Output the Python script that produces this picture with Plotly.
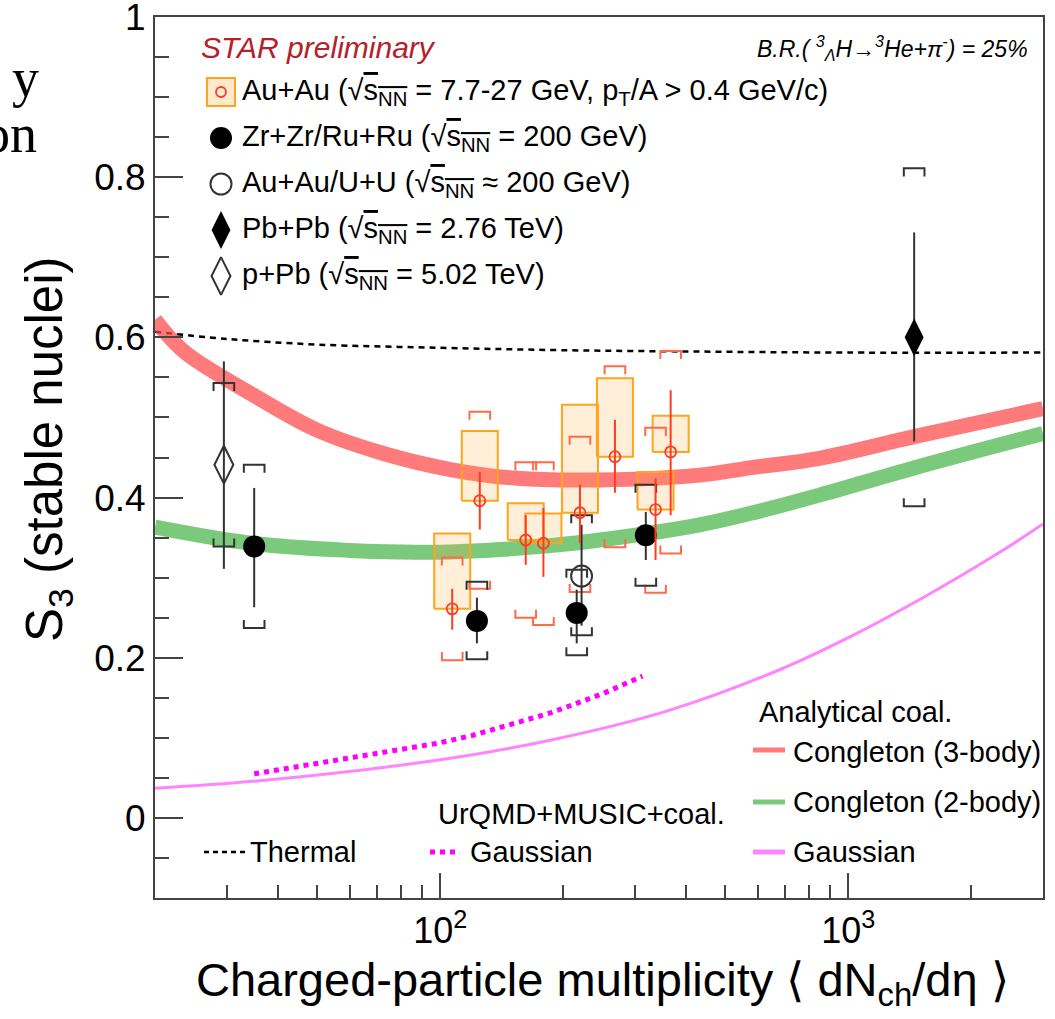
import numpy as np
import plotly.graph_objects as go

# ---------------- data ----------------
# Au+Au sqrt(sNN)=7.7-27 GeV
au_x = [107, 125, 162, 179, 220, 268, 337, 367]
au_y = [0.261, 0.396, 0.347, 0.343, 0.381, 0.451, 0.385, 0.457]
au_stat_hi = [0.286, 0.432, 0.378, 0.387, 0.416, 0.497, 0.424, 0.534]
au_stat_lo = [0.235, 0.360, 0.316, 0.301, 0.343, 0.406, 0.322, 0.378]
au_sys_hi = [0.325, 0.507, 0.444, 0.444, 0.476, 0.564, 0.487, 0.583]
au_sys_lo = [0.197, 0.286, 0.250, 0.241, 0.282, 0.338, 0.281, 0.330]
au_box_hi = [0.355, 0.483, 0.393, 0.380, 0.516, 0.549, 0.432, 0.502]

# Zr+Zr / Ru+Ru 200 GeV
zr_x = [35, 123, 216, 319]
zr_y = [0.339, 0.246, 0.256, 0.353]
zr_stat_hi = [0.412, 0.275, 0.285, 0.382]
zr_stat_lo = [0.263, 0.218, 0.218, 0.322]
zr_sys_hi = [0.441, 0.295, 0.310, 0.416]
zr_sys_lo = [0.237, 0.198, 0.203, 0.290]

# Au+Au / U+U ~200 GeV
auu_x = [222]
auu_y = [0.302]
auu_stat_hi = [0.366]
auu_stat_lo = [0.240]
auu_sys_hi = [0.378]
auu_sys_lo = [0.228]

# Pb+Pb 2.76 TeV
pbpb_x = [1450]
pbpb_y = [0.600]
pbpb_stat_hi = [0.731]
pbpb_stat_lo = [0.470]
pbpb_sys_hi = [0.811]
pbpb_sys_lo = [0.389]

# p+Pb 5.02 TeV
ppb_x = [29.5]
ppb_y = [0.441]
ppb_stat_hi = [0.570]
ppb_stat_lo = [0.311]
ppb_sys_hi = [0.543]
ppb_sys_lo = [0.339]

# model curves
thermal_x = [20, 30, 50, 100, 200, 500, 1000, 3000]
thermal_y = [0.607, 0.598, 0.591, 0.587, 0.584, 0.582, 0.581, 0.581]

cong3_x = [20, 23.6, 34.3, 50, 72.6, 106, 154, 246, 432, 573, 849, 1449, 3000]
cong3_y = [0.622, 0.582, 0.530, 0.484, 0.455, 0.435, 0.424, 0.422, 0.428, 0.437, 0.449, 0.476, 0.511]

cong2_x = [20, 34.3, 60, 80, 106, 140, 186, 246, 432, 573, 849, 1449, 3000]
cong2_y = [0.363, 0.343, 0.334, 0.332, 0.332, 0.335, 0.340, 0.347, 0.366, 0.380, 0.403, 0.437, 0.480]

gaus_x = [20, 37.2, 98, 186, 357, 679, 1000, 1500, 2339, 3000]
gaus_y = [0.037, 0.047, 0.072, 0.097, 0.133, 0.185, 0.225, 0.273, 0.331, 0.367]

urqmd_x = [35, 60, 98, 120, 186, 250, 313]
urqmd_y = [0.055, 0.075, 0.093, 0.103, 0.131, 0.155, 0.177]

x_tickvals = [100, 1000]
x_ticktext = ["10<sup>2</sup>", "10<sup>3</sup>"]
x_minor = [30, 40, 50, 60, 70, 80, 90, 200, 300, 400, 500, 600, 700, 800, 900, 2000]
y_tickvals = [0, 0.2, 0.4, 0.6, 0.8, 1.0]
y_ticktext = ["0", "0.2", "0.4", "0.6", "0.8", "1"]

# ---------------- styling ----------------
FONT = "Liberation Sans, Arial, Helvetica, sans-serif"
AU_RED = "#ff3b22"
AU_BRK = "#ff6a4a"
BOX_LINE = "#ffa41c"
BOX_FILL = "rgba(255,170,60,0.20)"
RED_BAND = "rgba(255,70,70,0.72)"
GREEN_BAND = "rgba(60,175,60,0.68)"
PINK = "#ff85ff"

# plot-area pixel geometry (used only for legend placement)
L, R, T, B = 155, 1043, 17, 898


def fx(px):
    return (px - L) / (R - L)


def fy(py):
    return (B - py) / (B - T)


def bracket_path(xs, his, los, f=1.060, leg=0.010):
    X, Y = [], []
    for x, hi, lo in zip(xs, his, los):
        X += [x / f, x / f, x * f, x * f, None, x / f, x / f, x * f, x * f, None]
        Y += [hi - leg, hi, hi, hi - leg, None, lo + leg, lo, lo, lo + leg, None]
    return X, Y


def box_path(xs, los, his, f=1.107):
    X, Y = [], []
    for x, lo, hi in zip(xs, los, his):
        X += [x / f, x * f, x * f, x / f, x / f, None]
        Y += [lo, lo, hi, hi, lo, None]
    return X, Y


def err(y, hi, lo):
    return dict(type="data", symmetric=False,
                array=[h - v for v, h in zip(y, hi)],
                arrayminus=[v - l for v, l in zip(y, lo)])


fig = go.Figure()

# model curves
fig.add_trace(go.Scatter(x=thermal_x, y=thermal_y, mode="lines",
                         line=dict(color="black", width=2.5, dash="6px,5px", shape="spline"),
                         hoverinfo="skip"))
fig.add_trace(go.Scatter(x=cong3_x, y=cong3_y, mode="lines",
                         line=dict(color=RED_BAND, width=15, shape="spline"),
                         hoverinfo="skip"))
fig.add_trace(go.Scatter(x=cong2_x, y=cong2_y, mode="lines",
                         line=dict(color=GREEN_BAND, width=15, shape="spline"),
                         hoverinfo="skip"))
fig.add_trace(go.Scatter(x=gaus_x, y=gaus_y, mode="lines",
                         line=dict(color=PINK, width=3, shape="spline"),
                         hoverinfo="skip"))
fig.add_trace(go.Scatter(x=urqmd_x, y=urqmd_y, mode="lines",
                         line=dict(color="#ff00ff", width=5, dash="5px,5px"),
                         hoverinfo="skip"))

# Au+Au boxes
bx, by = box_path(au_x, au_y, au_box_hi)
fig.add_trace(go.Scatter(x=bx, y=by, mode="lines", fill="toself",
                         fillcolor=BOX_FILL, line=dict(color=BOX_LINE, width=2),
                         hoverinfo="skip"))

# systematic brackets
for xs, his, los, col in [(au_x, au_sys_hi, au_sys_lo, AU_BRK),
                          (zr_x, zr_sys_hi, zr_sys_lo, "#333333"),
                          (auu_x, auu_sys_hi, auu_sys_lo, "#333333"),
                          (pbpb_x, pbpb_sys_hi, pbpb_sys_lo, "#333333"),
                          (ppb_x, ppb_sys_hi, ppb_sys_lo, "#333333")]:
    X, Y = bracket_path(xs, his, los)
    fig.add_trace(go.Scatter(x=X, y=Y, mode="lines", line=dict(color=col, width=2),
                             hoverinfo="skip"))

# data points with statistical errors
fig.add_trace(go.Scatter(x=ppb_x, y=ppb_y, mode="markers",
                         error_y=dict(**err(ppb_y, ppb_stat_hi, ppb_stat_lo), color="#333333", thickness=2, width=0),
                         marker=dict(symbol="diamond-tall-open", size=27, color="#333333", line=dict(width=2))))
fig.add_trace(go.Scatter(x=pbpb_x, y=pbpb_y, mode="markers",
                         error_y=dict(**err(pbpb_y, pbpb_stat_hi, pbpb_stat_lo), color="#333333", thickness=2, width=0),
                         marker=dict(symbol="diamond-tall", size=27, color="black")))
fig.add_trace(go.Scatter(x=auu_x, y=auu_y, mode="markers",
                         error_y=dict(**err(auu_y, auu_stat_hi, auu_stat_lo), color="#333333", thickness=2, width=0),
                         marker=dict(symbol="circle-open", size=21, color="#333333", line=dict(width=2))))
fig.add_trace(go.Scatter(x=zr_x, y=zr_y, mode="markers",
                         error_y=dict(**err(zr_y, zr_stat_hi, zr_stat_lo), color="#333333", thickness=2, width=0),
                         marker=dict(symbol="circle", size=22, color="black")))
fig.add_trace(go.Scatter(x=au_x, y=au_y, mode="markers",
                         error_y=dict(**err(au_y, au_stat_hi, au_stat_lo), color=AU_RED, thickness=2, width=0),
                         marker=dict(symbol="circle-open", size=11, color=AU_RED, line=dict(width=1.8))))

# ---------------- legend (overlay axes in plot-fraction units) ----------------
leg_rows = [92, 138, 184, 230, 276]
lx = fx(221)
fig.add_trace(go.Scatter(x=[lx], y=[fy(leg_rows[0])], xaxis="x2", yaxis="y2", mode="markers",
                         marker=dict(symbol="square", size=28, color="rgba(255,170,60,0.25)",
                                     line=dict(color=BOX_LINE, width=2))))
fig.add_trace(go.Scatter(x=[lx], y=[fy(leg_rows[0])], xaxis="x2", yaxis="y2", mode="markers",
                         marker=dict(symbol="circle-open", size=10, color=AU_RED, line=dict(width=1.8))))
fig.add_trace(go.Scatter(x=[lx], y=[fy(leg_rows[1])], xaxis="x2", yaxis="y2", mode="markers",
                         marker=dict(symbol="circle", size=22, color="black")))
fig.add_trace(go.Scatter(x=[lx], y=[fy(leg_rows[2])], xaxis="x2", yaxis="y2", mode="markers",
                         marker=dict(symbol="circle-open", size=21, color="#333333", line=dict(width=2))))
fig.add_trace(go.Scatter(x=[lx], y=[fy(leg_rows[3])], xaxis="x2", yaxis="y2", mode="markers",
                         marker=dict(symbol="diamond-tall", size=27, color="black")))
fig.add_trace(go.Scatter(x=[lx], y=[fy(leg_rows[4])], xaxis="x2", yaxis="y2", mode="markers",
                         marker=dict(symbol="diamond-tall-open", size=27, color="#333333", line=dict(width=2))))

# model legend samples
fig.add_trace(go.Scatter(x=[fx(204), fx(245)], y=[fy(852)] * 2, xaxis="x2", yaxis="y2", mode="lines",
                         line=dict(color="black", width=2.5, dash="5px,4px")))
fig.add_trace(go.Scatter(x=[fx(430), fx(459)], y=[fy(852)] * 2, xaxis="x2", yaxis="y2", mode="lines",
                         line=dict(color="#ff00ff", width=5, dash="5px,5px")))
fig.add_trace(go.Scatter(x=[fx(753), fx(785)], y=[fy(750)] * 2, xaxis="x2", yaxis="y2", mode="lines",
                         line=dict(color=RED_BAND, width=5)))
fig.add_trace(go.Scatter(x=[fx(753), fx(785)], y=[fy(802)] * 2, xaxis="x2", yaxis="y2", mode="lines",
                         line=dict(color=GREEN_BAND, width=5)))
fig.add_trace(go.Scatter(x=[fx(753), fx(785)], y=[fy(852)] * 2, xaxis="x2", yaxis="y2", mode="lines",
                         line=dict(color=PINK, width=5)))

sq = "\u221a<span style='text-decoration:overline'>s<sub>NN</sub></span>"
ann = []


def txt(px, py, s, size=29, color="black", anchor="left", **kw):
    ann.append(dict(x=fx(px), y=fy(py), xref="paper", yref="paper", text=s, showarrow=False,
                    xanchor=anchor, yanchor="middle", font=dict(family=FONT, size=size, color=color), **kw))


txt(199, 47, "<i>STAR preliminary</i>", size=30, color="#b5202a")
txt(1030, 48, "<i>B.R.( <sup>3</sup><sub>\u039b</sub>H\u2192<sup>3</sup>He+\u03c0<sup>-</sup>) = 25%</i>", size=23, anchor="right")
txt(240, 92, "Au+Au (" + sq + " = 7.7-27 GeV, p<sub>T</sub>/A > 0.4 GeV/c)")
txt(240, 138, "Zr+Zr/Ru+Ru (" + sq + " = 200 GeV)")
txt(240, 184, "Au+Au/U+U (" + sq + " \u2248 200 GeV)")
txt(240, 230, "Pb+Pb (" + sq + " = 2.76 TeV)")
txt(240, 276, "p+Pb (" + sq + " = 5.02 TeV)")
txt(757, 712, "Analytical coal.")
txt(791, 752, "Congleton (3-body)")
txt(791, 802, "Congleton (2-body)")
txt(791, 852, "Gaussian")
txt(436, 814, "UrQMD+MUSIC+coal.")
txt(468, 852, "Gaussian")
txt(248, 852, "Thermal")

# axis titles
ann.append(dict(x=fx(602), y=fy(983), xref="paper", yref="paper", showarrow=False,
                text="Charged-particle multiplicity \u27e8 dN<sub>ch</sub>/d\u03b7 \u27e9",
                xanchor="center", yanchor="middle", font=dict(family=FONT, size=47, color="black")))
ann.append(dict(x=fx(48), y=fy(449), xref="paper", yref="paper", showarrow=False, textangle=-90,
                text="S<sub>3</sub> (stable nuclei)",
                xanchor="center", yanchor="middle", font=dict(family=FONT, size=51, color="black")))

# stray slide text fragments at top left
ann.append(dict(x=fx(41), y=fy(78), xref="paper", yref="paper", showarrow=False, text="y",
                xanchor="right", yanchor="middle", font=dict(family="Liberation Serif, Times New Roman, serif", size=54, color="black")))
ann.append(dict(x=fx(39), y=fy(134), xref="paper", yref="paper", showarrow=False, text="on",
                xanchor="right", yanchor="middle", font=dict(family="Liberation Serif, Times New Roman, serif", size=54, color="black")))

fig.update_layout(
    width=1055, height=1019,
    margin=dict(l=L, r=1055 - R, t=T, b=1019 - B, autoexpand=False),
    paper_bgcolor="white", plot_bgcolor="white",
    showlegend=False,
    annotations=ann,
    font=dict(family=FONT, color="black"),
    xaxis=dict(type="log", range=[np.log10(20), np.log10(3000)],
               tickmode="array", tickvals=x_tickvals, ticktext=x_ticktext,
               ticks="inside", ticklen=25, tickwidth=2, tickcolor="#444",
               minor=dict(tickmode="array", tickvals=x_minor, ticks="inside", ticklen=13,
                          tickwidth=2, tickcolor="#444", showgrid=False),
               showline=True, linecolor="#444", linewidth=2, mirror=True,
               showgrid=False, zeroline=False, ticklabeloverflow="allow", automargin=False,
               tickfont=dict(family=FONT, size=36, color="black")),
    yaxis=dict(range=[-0.1, 1.0], tickmode="array", tickvals=y_tickvals, ticktext=y_ticktext,
               ticks="inside", ticklen=28, tickwidth=2, tickcolor="#444",
               minor=dict(dtick=0.05, tick0=0, ticks="inside", ticklen=14, tickwidth=2,
                          tickcolor="#444", showgrid=False),
               showline=True, linecolor="#444", linewidth=2, mirror=True,
               showgrid=False, zeroline=False, ticklabeloverflow="allow", automargin=False,
               tickfont=dict(family=FONT, size=37, color="black")),
    xaxis2=dict(overlaying="x", range=[0, 1], visible=False, fixedrange=True),
    yaxis2=dict(overlaying="y", range=[0, 1], visible=False, fixedrange=True),
)

fig.write_html("out.html")
